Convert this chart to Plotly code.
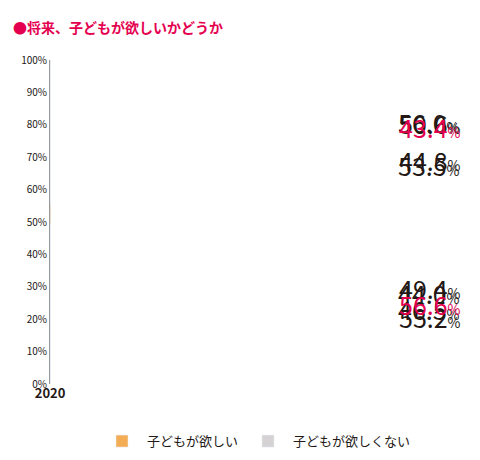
import plotly.graph_objects as go

years = ["2020", "2021", "2022", "2023", "2024"]
want = [56.0, 53.5, 50.6, 44.8, 43.4]
not_want = [44.0, 46.5, 49.4, 55.2, 56.6]
top_label_y = [80.8, 67.5, 80.5, 69.0, 79.3]
bot_label_y = [28.1, 23.0, 29.6, 20.7, 24.6]
label_colors = ["#231815", "#231815", "#231815", "#231815", "#e5004f"]

fig = go.Figure()
fig.add_bar(x=years, y=not_want, name="子どもが欲しくない", marker_color="#d5d2d3")
fig.add_bar(x=years, y=want, name="子どもが欲しい", marker_color="#f5ad55")

for i, y in enumerate(years):
    for v, ly in ((want[i], top_label_y[i]), (not_want[i], bot_label_y[i])):
        fig.add_annotation(x=y, y=ly, showarrow=False,
                           text=f"{v:.1f}<span style='font-size:14px'>%</span>",
                           font=dict(size=25, color=label_colors[i]))

fig.add_annotation(xref="paper", yref="paper", x=-0.095, y=1.14, xanchor="left",
                   showarrow=False, text="<b>●将来、子どもが欲しいかどうか</b>",
                   font=dict(size=14, color="#e5004f"))

fig.update_layout(
    width=480, height=460, barmode="stack", bargap=0.08,
    plot_bgcolor="white", paper_bgcolor="white",
    margin=dict(l=42, r=25, t=52, b=70),
    font=dict(family="Noto Sans CJK JP", color="#231815"),
    showlegend=True,
    legend=dict(orientation="h", x=0.5, xanchor="center", y=-0.13, traceorder="reversed",
                font=dict(size=13), itemwidth=40),
    xaxis=dict(type="category", tickfont=dict(size=13), showline=False, ticks="",
               tickprefix="<b>", ticksuffix="</b>"),
    yaxis=dict(range=[0, 100], dtick=10, ticksuffix="%", tickfont=dict(size=10),
               showgrid=False, showline=True, linecolor="#999", zeroline=False),
)
fig.write_html("out.html")
